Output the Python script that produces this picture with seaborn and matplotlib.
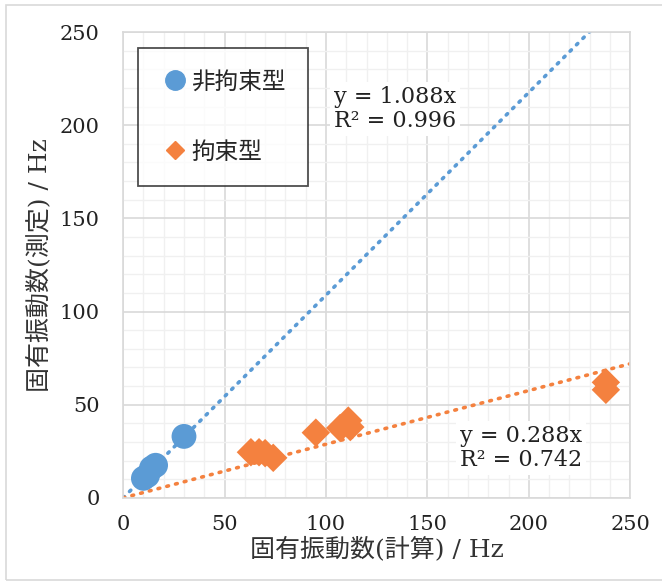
import numpy as np
import pandas as pd
import matplotlib
matplotlib.use("Agg")
import matplotlib.pyplot as plt
from matplotlib.patches import Rectangle
from matplotlib.ticker import MultipleLocator
import seaborn as sns

# 非拘束型 / 拘束型 の固有振動数 (計算, 測定)
x_free = [10, 12, 14, 16, 30]
y_free = [10.5, 12, 16, 17.5, 33]
x_fixed = [63, 67, 70, 74, 95, 107, 111, 112, 238, 238]
y_fixed = [24.5, 24.5, 24, 21.5, 35, 37.5, 41.5, 38, 62, 58]
labels = ["非拘束型", "拘束型"]
slopes = [1.088, 0.288]
r2 = [0.996, 0.742]
ticks = [0, 50, 100, 150, 200, 250]

df = pd.DataFrame({
    "calc": x_free + x_fixed,
    "meas": y_free + y_fixed,
    "type": [labels[0]] * len(x_free) + [labels[1]] * len(x_fixed),
})

sns.set_theme(style="white")
plt.rcParams["font.family"] = ["DejaVu Serif", "Noto Sans CJK JP"]

blue = "#5b9bd5"
orange = "#f4813f"

fig = plt.figure(figsize=(6.62, 5.83), dpi=100)
ax = fig.add_axes([0.186, 0.146, 0.766, 0.799])

# grid
ax.xaxis.set_major_locator(MultipleLocator(50))
ax.yaxis.set_major_locator(MultipleLocator(50))
ax.xaxis.set_minor_locator(MultipleLocator(10))
ax.yaxis.set_minor_locator(MultipleLocator(10))
ax.grid(which="major", color="#d9d9d9", lw=1.2, zorder=0)
ax.grid(which="minor", color="#f0f0f0", lw=1.0, zorder=0)
ax.set_axisbelow(True)

# trendlines (through origin)
xs = np.array([0, 250])
for k, c in zip(slopes, [blue, orange]):
    ax.plot(xs, k * xs, color=c, lw=2.6, linestyle=(0, (0.5, 2.0)),
            dash_capstyle="round", zorder=2)

# points
sns.scatterplot(data=df[df["type"] == labels[0]], x="calc", y="meas",
                color=blue, marker="o", s=320, edgecolor="none",
                ax=ax, zorder=3, legend=False)
sns.scatterplot(data=df[df["type"] == labels[1]], x="calc", y="meas",
                color=orange, marker="D", s=210, edgecolor="none",
                ax=ax, zorder=3, legend=False)

ax.set_xlim(0, 250)
ax.set_ylim(0, 250)
ax.set_xticks(ticks)
ax.set_yticks(ticks)
ax.tick_params(which="major", direction="out", length=5, width=1,
               color="#bfbfbf", labelsize=15, labelcolor="#222222")
ax.tick_params(axis="y", pad=12)
ax.tick_params(axis="x", pad=7)
ax.tick_params(which="minor", length=0)
for s in ax.spines.values():
    s.set_color("#d9d9d9")
    s.set_linewidth(1.2)

ax.set_xlabel("固有振動数(計算) / Hz", fontsize=18, color="#333333", labelpad=2)
ax.set_ylabel("固有振動数(測定) / Hz", fontsize=18, color="#333333", labelpad=6)

# equations
ax.text(104, 221, f"y = {slopes[0]:.3f}x\nR² = {r2[0]:.3f}", ha="left", va="top",
        fontsize=16, color="#222222", linespacing=1.1, zorder=4,
        bbox=dict(facecolor="white", edgecolor="none", pad=3))
ax.text(166, 39, f"y = {slopes[1]:.3f}x\nR² = {r2[1]:.3f}", ha="left", va="top",
        fontsize=16, color="#222222", linespacing=1.1, zorder=4,
        bbox=dict(facecolor="white", edgecolor="none", pad=3))

# legend
h1 = plt.Line2D([], [], marker="o", color=blue, ls="none", markersize=14)
h2 = plt.Line2D([], [], marker="D", color=orange, ls="none", markersize=9)
leg = ax.legend([h1, h2], labels, loc="upper left", bbox_to_anchor=(0.03, 0.966),
                borderaxespad=0, frameon=True, fancybox=False, fontsize=17,
                labelspacing=2.0, handletextpad=0.1, handlelength=1.2,
                borderpad=0.95)
leg.get_frame().set_edgecolor("#222222")
leg.get_frame().set_linewidth(1.3)
leg.set_zorder(5)

# chart area border
fig.patches.append(Rectangle((6 / 662, 3 / 583), 660 / 662, 575 / 583,
                             transform=fig.transFigure, fill=False,
                             edgecolor="#d9d9d9", lw=1.2))

fig.savefig("out.png", dpi=100)
